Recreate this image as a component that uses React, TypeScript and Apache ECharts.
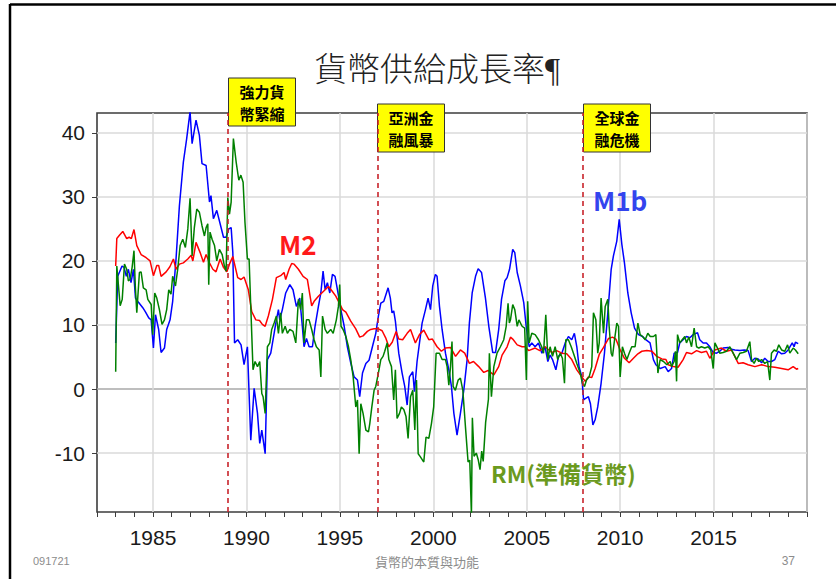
import React, { useEffect, useRef } from 'react';
import * as echarts from 'echarts';

// ---- data (year, growth %) ----
const m1bData: [number, number][] = [
  [1983.0, 7.2], [1983.11, 17.6], [1983.34, 19.2], [1983.45, 19.0], [1983.57, 17.6], [1983.68, 18.7], [1983.82, 16.6], [1983.95, 18.7],
  [1984.06, 14.2], [1984.23, 13.5], [1984.45, 12.7], [1984.6, 12.0], [1984.77, 11.1], [1984.9, 10.8], [1985.02, 6.4], [1985.13, 11.6],
  [1985.3, 9.3], [1985.43, 5.7], [1985.61, 6.4], [1985.73, 9.3], [1985.91, 10.8], [1986.05, 13.7], [1986.23, 20.3], [1986.41, 28.6],
  [1986.62, 35.4], [1986.8, 39.1], [1986.98, 43.3], [1987.09, 38.3], [1987.3, 42.0], [1987.48, 39.6], [1987.62, 35.2], [1987.84, 34.9],
  [1988.02, 29.2], [1988.1, 30.2], [1988.23, 26.6], [1988.41, 27.9], [1988.59, 25.8], [1988.77, 23.7], [1988.91, 23.7], [1989.05, 25.0],
  [1989.18, 25.2], [1989.27, 21.3], [1989.36, 7.2], [1989.53, 7.7], [1989.71, 6.9], [1989.87, 3.8], [1990.05, 6.6], [1990.23, -8.0],
  [1990.41, 0.1], [1990.59, -3.8], [1990.71, -8.5], [1990.82, -6.4], [1991.0, -10.1], [1991.12, 4.6], [1991.3, 5.6], [1991.48, 8.7],
  [1991.6, 10.8], [1991.71, 12.4], [1991.78, 10.8], [1991.92, 12.4], [1992.1, 15.0], [1992.32, 16.3], [1992.49, 15.5], [1992.67, 12.9],
  [1992.85, 14.2], [1992.99, 9.8], [1993.08, 6.6], [1993.21, 7.9], [1993.35, 6.6], [1993.53, 6.6], [1993.67, 9.8], [1993.85, 12.9],
  [1993.98, 15.0], [1994.1, 18.4], [1994.21, 15.5], [1994.33, 16.6], [1994.46, 15.0], [1994.6, 17.9], [1994.74, 17.6], [1994.87, 15.5],
  [1995.05, 12.4], [1995.23, 9.8], [1995.4, 6.6], [1995.58, 4.1], [1995.76, 1.9], [1995.94, 1.4], [1996.06, -1.2], [1996.21, 2.5],
  [1996.39, 4.0], [1996.56, 4.5], [1996.74, 6.6], [1996.92, 8.7], [1997.06, 11.4], [1997.19, 13.4], [1997.35, 13.7], [1997.58, 15.8],
  [1997.7, 14.2], [1997.79, 11.9], [1997.88, 12.2], [1997.97, 10.6], [1998.15, 5.6], [1998.33, 2.5], [1998.47, 0.4], [1998.6, -2.5],
  [1998.72, 1.9], [1998.9, 2.7], [1998.99, -0.4], [1999.13, 4.3], [1999.26, 7.2], [1999.4, 10.3], [1999.58, 12.4], [1999.72, 14.2],
  [1999.85, 12.4], [1999.97, 16.1], [2000.11, 17.9], [2000.2, 17.6], [2000.33, 12.9], [2000.47, 9.3], [2000.65, 5.6], [2000.83, 3.0],
  [2000.97, 0.4], [2001.1, -3.8], [2001.27, -7.2], [2001.45, -3.8], [2001.63, -0.2], [2001.81, 4.6], [2001.93, 10.3], [2002.08, 15.0],
  [2002.26, 17.6], [2002.4, 18.8], [2002.58, 18.2], [2002.79, 14.2], [2002.97, 9.8], [2003.18, 5.7], [2003.33, 5.7], [2003.5, 9.3],
  [2003.65, 14.0], [2003.83, 16.9], [2003.95, 17.4], [2004.08, 18.7], [2004.25, 21.8], [2004.36, 21.3], [2004.49, 18.2], [2004.66, 16.1],
  [2004.84, 13.5], [2004.97, 9.8], [2005.13, 6.6], [2005.27, 7.2], [2005.45, 6.6], [2005.63, 7.2], [2005.81, 5.6], [2005.98, 6.6],
  [2006.13, 4.3], [2006.25, 5.3], [2006.38, 4.6], [2006.56, 3.0], [2006.7, 5.1], [2006.88, 5.6], [2007.06, 7.2], [2007.23, 8.2],
  [2007.41, 7.7], [2007.55, 8.7], [2007.68, 6.6], [2007.8, 3.5], [2007.95, 1.9], [2008.04, -1.7], [2008.13, -1.5], [2008.3, -1.2],
  [2008.41, -2.3], [2008.54, -5.6], [2008.66, -4.8], [2008.8, -2.8], [2008.98, 0.9], [2009.16, 5.6], [2009.34, 11.9], [2009.52, 18.7],
  [2009.64, 20.8], [2009.82, 23.1], [2009.95, 26.5], [2010.09, 22.6], [2010.23, 19.7], [2010.41, 15.0], [2010.59, 11.9], [2010.77, 9.5],
  [2010.98, 8.5], [2011.2, 8.2], [2011.37, 7.7], [2011.6, 7.2], [2011.78, 4.6], [2011.91, 3.8], [2012.14, 3.2], [2012.41, 3.5],
  [2012.57, 2.7], [2012.75, 3.2], [2012.89, 5.6], [2013.07, 5.7], [2013.19, 7.2], [2013.37, 7.7], [2013.55, 8.2], [2013.73, 8.0],
  [2013.91, 8.5], [2014.14, 8.8], [2014.26, 7.7], [2014.44, 7.2], [2014.62, 7.2], [2014.8, 6.6], [2014.98, 5.7], [2015.16, 5.6],
  [2015.33, 5.9], [2015.51, 6.4], [2015.78, 6.5], [2015.96, 6.2], [2016.14, 6.1], [2016.41, 6.0], [2016.64, 6.1], [2016.85, 6.0],
  [2017.03, 4.3], [2017.21, 4.8], [2017.39, 4.7], [2017.57, 4.1], [2017.74, 4.8], [2017.92, 4.3], [2018.1, 4.3], [2018.28, 4.6],
  [2018.46, 5.9], [2018.64, 5.5], [2018.81, 5.6], [2018.99, 6.1], [2019.21, 7.2], [2019.31, 6.6], [2019.38, 7.3], [2019.53, 7.1],
];

const m2Data: [number, number][] = [
  [1983.0, 19.2], [1983.06, 23.5], [1983.2, 24.0], [1983.38, 24.6], [1983.59, 23.5], [1983.72, 23.7], [1983.84, 23.5], [1983.98, 24.9],
  [1984.13, 22.4], [1984.36, 21.0], [1984.63, 20.5], [1984.84, 20.0], [1985.02, 17.7], [1985.2, 19.3], [1985.3, 19.3], [1985.43, 17.6],
  [1985.7, 18.3], [1985.9, 19.1], [1986.09, 20.3], [1986.23, 18.7], [1986.41, 19.5], [1986.62, 19.7], [1986.86, 20.3], [1987.04, 20.9],
  [1987.13, 20.0], [1987.3, 22.9], [1987.52, 21.3], [1987.7, 19.8], [1987.84, 21.0], [1988.02, 19.7], [1988.2, 18.7], [1988.37, 18.3],
  [1988.59, 20.3], [1988.77, 19.0], [1988.95, 18.3], [1989.09, 19.5], [1989.27, 20.7], [1989.53, 17.4], [1989.71, 17.1], [1989.87, 17.5],
  [1990.1, 15.5], [1990.28, 12.1], [1990.5, 10.8], [1990.7, 10.7], [1990.85, 10.1], [1991.0, 9.8], [1991.17, 11.4], [1991.39, 14.0],
  [1991.6, 17.4], [1991.83, 17.7], [1992.01, 18.2], [1992.1, 17.1], [1992.28, 18.7], [1992.42, 19.6], [1992.55, 19.5], [1992.78, 18.7],
  [1993.03, 17.6], [1993.26, 17.1], [1993.49, 13.0], [1993.62, 13.7], [1993.85, 14.5], [1994.03, 15.0], [1994.21, 15.5], [1994.39, 16.0],
  [1994.58, 15.3], [1994.78, 14.5], [1994.96, 13.5], [1995.14, 12.4], [1995.32, 12.0], [1995.58, 10.6], [1995.85, 9.4], [1996.06, 8.1],
  [1996.24, 8.3], [1996.47, 9.0], [1996.65, 9.3], [1996.83, 9.4], [1997.06, 9.4], [1997.26, 9.1], [1997.45, 8.0], [1997.62, 6.6],
  [1997.8, 7.3], [1998.01, 9.0], [1998.15, 7.8], [1998.36, 7.7], [1998.6, 8.7], [1998.78, 9.3], [1999.04, 7.2], [1999.26, 8.5],
  [1999.49, 9.2], [1999.76, 7.7], [1999.95, 7.8], [2000.2, 6.6], [2000.43, 5.9], [2000.65, 6.4], [2000.92, 6.5], [2001.19, 5.1],
  [2001.45, 6.1], [2001.68, 5.6], [2001.93, 4.0], [2002.15, 4.3], [2002.43, 3.5], [2002.7, 2.6], [2002.93, 2.9], [2003.24, 2.2],
  [2003.5, 3.5], [2003.68, 5.3], [2003.95, 6.6], [2004.13, 8.1], [2004.25, 7.8], [2004.49, 6.9], [2004.75, 6.6], [2004.91, 6.6],
  [2005.1, 6.0], [2005.45, 6.4], [2005.7, 6.0], [2005.98, 6.6], [2006.34, 5.7], [2006.6, 6.0], [2006.88, 5.6], [2007.14, 5.5],
  [2007.41, 4.6], [2007.68, 3.0], [2007.95, 1.9], [2008.13, 1.2], [2008.3, 1.9], [2008.48, 1.8], [2008.66, 3.2], [2008.88, 5.4],
  [2009.11, 6.5], [2009.38, 7.9], [2009.59, 8.1], [2009.77, 7.8], [2010.0, 6.1], [2010.23, 4.8], [2010.48, 4.1], [2010.71, 4.8],
  [2010.95, 5.5], [2011.16, 5.9], [2011.43, 6.0], [2011.7, 5.9], [2011.96, 5.1], [2012.23, 4.7], [2012.45, 4.6], [2012.57, 3.8],
  [2012.84, 3.5], [2013.1, 3.4], [2013.37, 4.6], [2013.55, 5.7], [2013.82, 5.5], [2014.09, 6.0], [2014.35, 5.7], [2014.62, 5.9],
  [2014.8, 4.8], [2015.07, 6.1], [2015.42, 6.4], [2015.69, 5.9], [2015.96, 6.1], [2016.32, 4.0], [2016.58, 4.1], [2016.85, 3.8],
  [2017.21, 3.5], [2017.57, 3.8], [2017.92, 3.5], [2018.28, 3.4], [2018.64, 3.2], [2018.99, 3.0], [2019.26, 3.5], [2019.44, 3.1],
  [2019.53, 3.2],
];

const rmData: [number, number][] = [
  [1983.0, 2.7], [1983.06, 19.2], [1983.24, 13.0], [1983.35, 14.0], [1983.47, 19.5], [1983.59, 18.7], [1983.68, 16.9], [1983.77, 17.1],
  [1983.88, 19.0], [1983.98, 21.6], [1984.05, 16.1], [1984.13, 11.9], [1984.27, 18.2], [1984.36, 18.3], [1984.48, 15.8], [1984.63, 15.5],
  [1984.72, 14.0], [1984.9, 13.2], [1984.98, 8.5], [1985.09, 15.0], [1985.2, 14.2], [1985.34, 12.4], [1985.48, 10.1], [1985.61, 10.8],
  [1985.73, 12.4], [1985.84, 15.5], [1985.96, 14.8], [1986.05, 17.6], [1986.2, 16.1], [1986.32, 18.7], [1986.45, 22.4], [1986.59, 23.4],
  [1986.73, 22.1], [1986.86, 25.0], [1986.98, 29.8], [1987.09, 20.8], [1987.21, 25.2], [1987.34, 28.1], [1987.48, 27.6], [1987.62, 25.5],
  [1987.75, 23.9], [1987.84, 25.2], [1987.93, 25.8], [1987.98, 16.3], [1988.05, 24.5], [1988.16, 23.4], [1988.29, 22.4], [1988.41, 20.0],
  [1988.55, 21.8], [1988.7, 21.0], [1988.82, 19.2], [1988.91, 18.4], [1989.0, 29.9], [1989.09, 27.3], [1989.18, 29.2], [1989.3, 39.1],
  [1989.45, 35.4], [1989.59, 32.6], [1989.7, 33.4], [1989.82, 32.3], [1989.92, 26.0], [1990.05, 20.3], [1990.14, 20.3], [1990.23, 12.9],
  [1990.35, 3.0], [1990.46, 4.3], [1990.59, 3.5], [1990.71, 4.3], [1990.82, -0.7], [1990.89, -1.2], [1991.0, -3.8], [1991.12, 6.6],
  [1991.25, 7.2], [1991.35, 9.3], [1991.48, 10.3], [1991.6, 11.4], [1991.71, 8.7], [1991.83, 11.9], [1991.92, 8.7], [1992.07, 9.8],
  [1992.19, 8.7], [1992.32, 9.3], [1992.49, 9.0], [1992.64, 7.2], [1992.78, 14.0], [1992.9, 12.4], [1992.99, 15.0], [1993.08, 7.2],
  [1993.21, 10.8], [1993.35, 10.8], [1993.49, 9.3], [1993.62, 7.7], [1993.74, 6.6], [1993.89, 6.1], [1993.98, 1.9], [1994.07, 11.4],
  [1994.21, 9.3], [1994.33, 8.7], [1994.51, 9.3], [1994.64, 8.7], [1994.81, 10.8], [1994.92, 12.9], [1994.99, 16.3], [1995.06, 9.8],
  [1995.17, 9.3], [1995.32, 8.2], [1995.46, 6.6], [1995.58, 4.6], [1995.71, 1.9], [1995.85, -2.8], [1995.94, -1.7], [1996.03, -10.1],
  [1996.12, -2.3], [1996.24, -3.8], [1996.39, -6.4], [1996.53, -6.7], [1996.6, -5.4], [1996.71, -2.8], [1996.83, -0.2], [1996.92, 0.4],
  [1997.06, 2.5], [1997.19, 4.6], [1997.31, 5.1], [1997.4, 5.9], [1997.53, 7.2], [1997.62, 4.6], [1997.76, 3.5], [1997.88, -1.7],
  [1997.97, 3.0], [1998.06, -4.6], [1998.19, -3.8], [1998.29, -2.8], [1998.42, -3.2], [1998.54, -4.3], [1998.65, -7.7], [1998.78, -1.2],
  [1998.9, -0.2], [1999.01, -6.4], [1999.1, 1.4], [1999.19, -10.1], [1999.31, -10.6], [1999.49, -11.4], [1999.61, -7.5], [1999.76, -7.7],
  [1999.9, -5.4], [2000.02, -2.8], [2000.15, 5.6], [2000.33, 5.6], [2000.47, 4.6], [2000.65, 4.6], [2000.74, 3.5], [2000.83, 0.6],
  [2000.92, 3.5], [2001.0, 7.4], [2001.06, 0.4], [2001.18, -0.2], [2001.33, 1.4], [2001.45, 1.7], [2001.58, -0.2], [2001.72, -5.9],
  [2001.86, -11.4], [2001.95, -11.1], [2002.04, -19.6], [2002.09, -4.5], [2002.18, -10.5], [2002.3, -10.0], [2002.4, -11.0], [2002.5, -12.6],
  [2002.59, -9.7], [2002.67, -11.3], [2002.8, -5.2], [2002.95, -1.6], [2003.0, 5.6], [2003.11, -1.2], [2003.24, 3.5], [2003.41, 5.6],
  [2003.59, 6.6], [2003.77, 7.7], [2003.9, 9.8], [2004.0, 13.4], [2004.07, 10.3], [2004.13, 10.8], [2004.25, 13.2], [2004.36, 12.4],
  [2004.49, 9.8], [2004.58, 10.8], [2004.75, 9.8], [2004.89, 9.5], [2004.98, 1.4], [2005.05, 13.7], [2005.13, 7.2], [2005.27, 8.7],
  [2005.45, 8.5], [2005.63, 7.7], [2005.8, 6.6], [2005.9, 5.6], [2006.02, 11.6], [2006.13, 4.6], [2006.25, 6.6], [2006.38, 5.1],
  [2006.52, 6.6], [2006.66, 4.6], [2006.79, 5.6], [2006.91, 4.8], [2007.02, 0.9], [2007.09, 7.7], [2007.23, 7.7], [2007.38, 6.6],
  [2007.5, 5.6], [2007.68, 4.0], [2007.86, 2.5], [2007.98, 0.9], [2008.09, 0.4], [2008.2, 1.4], [2008.34, 1.9], [2008.48, 3.5],
  [2008.57, 11.9], [2008.7, 10.8], [2008.8, 5.6], [2008.88, 7.2], [2008.98, 14.2], [2009.11, 8.7], [2009.2, 12.9], [2009.34, 14.0],
  [2009.41, 9.8], [2009.52, 5.6], [2009.59, 5.1], [2009.7, 7.7], [2009.82, 10.3], [2009.91, 9.8], [2010.0, 1.9], [2010.12, 6.6],
  [2010.23, 5.6], [2010.36, 4.6], [2010.48, 5.6], [2010.62, 6.6], [2010.8, 6.6], [2010.95, 10.3], [2011.07, 8.5], [2011.2, 8.2],
  [2011.34, 7.7], [2011.48, 8.7], [2011.61, 8.2], [2011.78, 8.2], [2011.91, 8.5], [2012.02, 2.5], [2012.14, 4.6], [2012.32, 4.3],
  [2012.5, 3.8], [2012.68, 4.3], [2012.75, 3.5], [2012.89, 4.3], [2012.96, 5.9], [2013.02, 1.2], [2013.07, 8.5], [2013.19, 7.2],
  [2013.32, 7.7], [2013.46, 8.2], [2013.55, 7.2], [2013.68, 8.1], [2013.82, 6.6], [2013.96, 9.5], [2014.09, 6.6], [2014.21, 6.4],
  [2014.35, 6.6], [2014.53, 6.4], [2014.71, 6.6], [2014.85, 6.1], [2014.98, 3.2], [2015.07, 7.2], [2015.21, 6.4], [2015.33, 5.6],
  [2015.51, 5.7], [2015.69, 5.9], [2015.87, 6.6], [2016.05, 5.6], [2016.23, 4.6], [2016.41, 5.6], [2016.58, 5.7], [2016.76, 5.9],
  [2016.94, 7.4], [2017.03, 4.6], [2017.17, 4.0], [2017.3, 4.8], [2017.42, 4.3], [2017.57, 4.6], [2017.74, 4.0], [2017.89, 4.3],
  [2018.01, 1.4], [2018.1, 5.6], [2018.24, 6.1], [2018.37, 5.9], [2018.49, 6.9], [2018.64, 6.1], [2018.81, 5.9], [2018.96, 6.9],
  [2019.08, 5.6], [2019.26, 6.4], [2019.38, 6.1], [2019.53, 5.5],
];

const eventYears = [1989, 1997, 2008];
const eventLabels = [['強力貨', '幣緊縮'], ['亞洲金', '融風暴'], ['全球金', '融危機']];
const seriesNames = ['M1b', 'M2', 'RM(準備貨幣)'];
const titleText = '貨幣供給成長率¶';
const footerTexts = ['091721', '貨幣的本質與功能', '37'];

const X_MIN = 1982;
const X_MAX = 2020;
const Y_MIN = -19.2;
const Y_MAX = 43.1;

const CJK = '"Noto Sans CJK TC", "Noto Sans CJK SC", sans-serif';
const LATIN = '"Liberation Sans", Arial, sans-serif';
const NONE = 'rgba(0,0,0,0)';

export default function App() {
  const ref = useRef<HTMLDivElement>(null);

  useEffect(() => {
    if (!ref.current) return;
    const chart = echarts.init(ref.current, null, { renderer: 'svg' });

    const lineSeries = (name: string, data: [number, number][], color: string, extra: any = {}) => ({
      name,
      type: 'line',
      data,
      showSymbol: false,
      symbol: 'none',
      smooth: false,
      lineStyle: { color, width: 1.5 },
      emphasis: { disabled: true },
      silent: true,
      ...extra,
    });

    chart.setOption({
      animation: false,
      backgroundColor: '#ffffff',
      grid: {
        left: 97,
        top: 113,
        width: 710,
        height: 399,
        show: true,
        borderColor: '#3c3c3c',
        borderWidth: 1.6,
        backgroundColor: 'transparent',
      },
      xAxis: {
        type: 'value',
        min: X_MIN,
        max: X_MAX,
        interval: 1,
        axisLine: { show: false, onZero: false },
        axisTick: { show: true, length: 5, lineStyle: { color: '#3c3c3c', width: 1 } },
        axisLabel: {
          margin: 15,
          fontSize: 21,
          fontFamily: LATIN,
          color: '#1a1a1a',
          formatter: (v: number) => (Math.round(v) % 5 === 0 && v > X_MIN && v < X_MAX ? String(Math.round(v)) : ''),
        },
        splitLine: {
          show: true,
          lineStyle: { color: [NONE, NONE, NONE, '#dadada', NONE], width: 1.5 },
        },
      },
      yAxis: {
        type: 'value',
        min: Y_MIN,
        max: Y_MAX,
        splitNumber: 6,
        axisLine: { show: false, onZero: false },
        axisTick: { show: true, length: 5, lineStyle: { color: '#3c3c3c', width: 1 } },
        axisLabel: {
          margin: 12,
          fontSize: 21,
          fontFamily: LATIN,
          color: '#1a1a1a',
          showMinLabel: false,
          showMaxLabel: false,
          formatter: (v: number) => String(Math.round(v)),
        },
        splitLine: {
          show: true,
          lineStyle: {
            color: [NONE, '#dadada', '#a8a8a8', '#dadada', '#dadada', '#dadada', '#dadada', NONE],
            width: 1.5,
          },
        },
      },
      series: [
        lineSeries(seriesNames[0], m1bData, '#0000ff'),
        lineSeries(seriesNames[1], m2Data, '#ff0000'),
        lineSeries(seriesNames[2], rmData, '#008000', {
          markLine: {
            silent: true,
            symbol: ['none', 'none'],
            label: { show: false },
            lineStyle: { color: '#c8242b', type: [5, 4], width: 1.6 },
            data: eventYears.map((y) => ({ xAxis: y })),
          },
        }),
      ],
    });

    const px = (year: number) => chart.convertToPixel({ xAxisIndex: 0 }, year) as number;
    const boxTops = [78, 104, 104];
    const boxW = 67;
    const boxH = 48;

    const boxes = eventYears.map((y, i) => {
      const x0 = Math.round(px(y)) + 0.5;
      return {
        type: 'group',
        z: 100,
        children: [
          {
            type: 'rect',
            shape: { x: x0, y: boxTops[i], width: boxW, height: boxH },
            style: { fill: '#ffff00', stroke: '#333333', lineWidth: 1 },
          },
          ...eventLabels[i].map((line, j) => ({
            type: 'text',
            style: {
              text: line,
              x: x0 + boxW / 2,
              y: boxTops[i] + 13 + j * 22,
              textAlign: 'center',
              textVerticalAlign: 'middle',
              fontSize: 15,
              fontWeight: 'bold',
              fontFamily: CJK,
              fill: '#000000',
            },
          })),
        ],
      };
    });

    chart.setOption({
      graphic: [
        { type: 'line', z: 100, shape: { x1: 10, y1: 4.5, x2: 836, y2: 4.5 }, style: { stroke: '#000', lineWidth: 2.5 } },
        { type: 'line', z: 100, shape: { x1: 10, y1: 4, x2: 10, y2: 579 }, style: { stroke: '#000', lineWidth: 2.5 } },
        {
          type: 'text',
          z: 100,
          style: {
            text: titleText,
            x: 314,
            y: 70,
            textVerticalAlign: 'middle',
            fontSize: 33,
            fontFamily: '"Liberation Serif", "Noto Sans CJK TC", serif',
            fontWeight: 300,
            fill: '#222222',
          },
        },
        ...boxes,
        {
          type: 'text',
          z: 100,
          style: { text: seriesNames[1], x: 279, y: 243, textVerticalAlign: 'middle', fontSize: 26, fontWeight: 'bold', fontFamily: CJK, fill: '#ff1a1a' },
        },
        {
          type: 'text',
          z: 100,
          style: { text: seriesNames[0], x: 593, y: 199, textVerticalAlign: 'middle', fontSize: 26, fontWeight: 'bold', fontFamily: CJK, fill: '#3344ee' },
        },
        {
          type: 'text',
          z: 100,
          style: { text: seriesNames[2], x: 491, y: 473, textVerticalAlign: 'middle', fontSize: 23, fontWeight: 'bold', fontFamily: CJK, fill: '#6b9a1e' },
        },
        {
          type: 'text',
          z: 100,
          style: { text: footerTexts[0], x: 33, y: 561, textVerticalAlign: 'middle', fontSize: 11, fontFamily: LATIN, fill: '#8c8c8c' },
        },
        {
          type: 'text',
          z: 100,
          style: { text: footerTexts[1], x: 427, y: 561, textAlign: 'center', textVerticalAlign: 'middle', fontSize: 13, fontFamily: CJK, fill: '#8c8c8c' },
        },
        {
          type: 'text',
          z: 100,
          style: { text: footerTexts[2], x: 795, y: 561, textAlign: 'right', textVerticalAlign: 'middle', fontSize: 12, fontFamily: LATIN, fill: '#8c8c8c' },
        },
      ],
    });

    return () => chart.dispose();
  }, []);

  return (
    <div
      ref={ref}
      style={{ position: 'absolute', left: 0, top: 0, width: 836, height: 579, background: '#ffffff' }}
    />
  );
}
